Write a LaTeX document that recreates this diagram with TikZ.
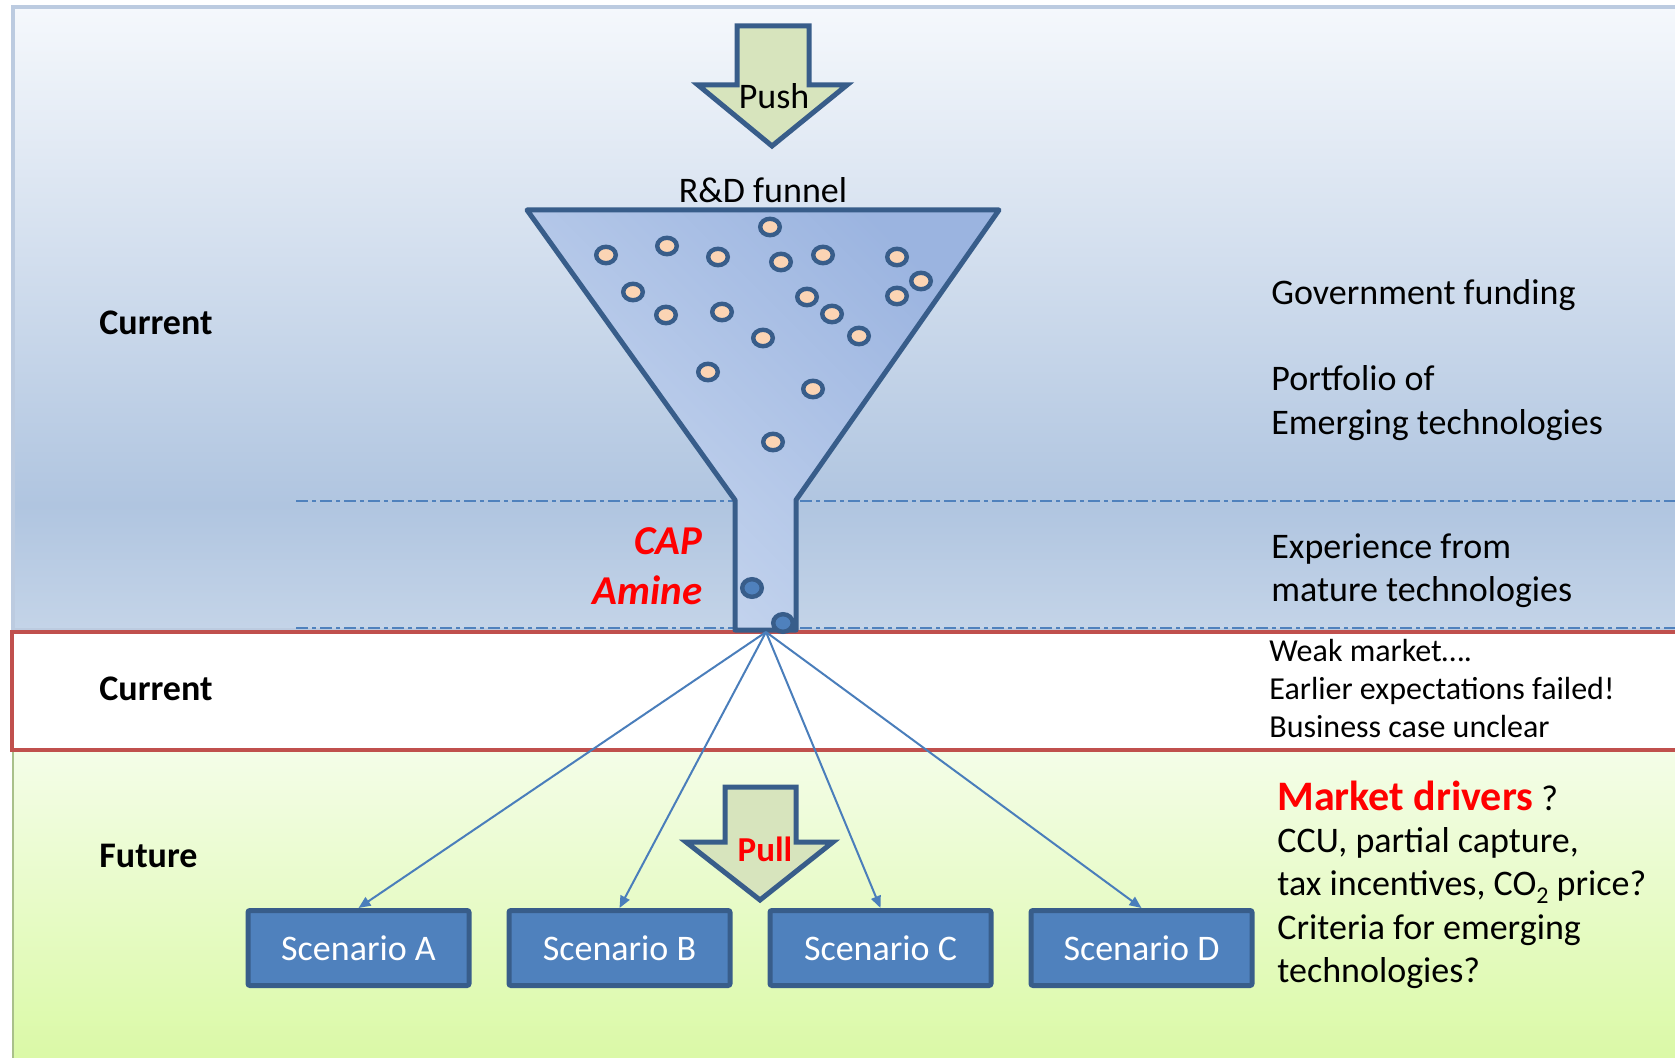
\documentclass[tikz,border=0pt]{standalone}
\usepackage{fontspec}
\setmainfont{Carlito}
\usepackage{tikz}
\usetikzlibrary{positioning, arrows.meta}

\definecolor{panelTop}{HTML}{F5F8FC}
\definecolor{panelDark}{HTML}{B0C5E0}
\definecolor{panelLow}{HTML}{C4D4E8}
\definecolor{panelEdge}{HTML}{BCCBE0}
\definecolor{funnelLight}{HTML}{C8D7EF}
\definecolor{funnelDark}{HTML}{9BB4E0}
\definecolor{lineBlue}{HTML}{385D8A}
\definecolor{boxBlue}{HTML}{4F81BD}
\definecolor{linkBlue}{HTML}{4A7EBB}
\definecolor{beadFill}{HTML}{FBD4B4}
\definecolor{arrowFill}{HTML}{D7E4BD}
\definecolor{bandRed}{HTML}{C0504D}
\definecolor{greenTop}{HTML}{F4FDE8}
\definecolor{greenLow}{HTML}{DAF9A5}
\definecolor{greenEdge}{HTML}{A9C08A}

\pgfdeclareverticalshading{topband}{100bp}{color(0bp)=(panelLow); color(25bp)=(panelLow);
    color(35bp)=(panelDark); color(75bp)=(panelTop); color(100bp)=(panelTop)}

\begin{document}
\begin{tikzpicture}[
    x=0.5pt, y=-0.5pt,
    every node/.style={inner sep=0pt, font=\fontsize{18}{21.6}\selectfont},
    side/.style={anchor=west, align=left},
    era/.style={anchor=west, font=\fontsize{18}{21.6}\selectfont\bfseries},
    scenario/.style={draw=lineBlue, line width=2.5pt, fill=boxBlue, rounded corners=1pt,
        minimum width=110.5pt, minimum height=37.5pt, text=white},
    blockarrow/.style={draw=lineBlue, line width=2.5pt, fill=arrowFill},
    bead/.style={draw=lineBlue, line width=2.2pt, fill=beadFill},
    feed/.style={draw=linkBlue, line width=1pt, -{Triangle[length=6pt,width=5pt]}},
    stageline/.style={draw=boxBlue, line width=1pt, dash pattern=on 6pt off 2pt on 2pt off 2pt}
]
\useasboundingbox (0,0) rectangle (1675,1058);

% Bands
\shade[shading=topband, draw=panelEdge, line width=2pt] (13,7) rectangle (1685,630);
\shade[top color=greenTop, bottom color=greenLow, draw=greenEdge, line width=1pt] (13,750) rectangle (1685,1065);
\draw[stageline] (296,501) -- (1680,501);
\draw[stageline] (296,628) -- (1680,628);
\draw[draw=bandRed, fill=white, line width=2pt] (12,632) rectangle (1685,750);

% Funnel
\shadedraw[draw=lineBlue, line width=2.5pt, line join=round,
    top color=funnelDark, bottom color=funnelLight, shading angle=-45]
    (527,210) -- (999,210) -- (796,500) -- (796,630) -- (735,630) -- (735,500) -- cycle;
\foreach \x/\y in {770/227, 606/255, 667/246, 718/257, 781/262, 823/255, 897/257,
    921/281, 897/296, 633/292, 666/315, 722/312, 807/297, 832/314, 859/336,
    763/338, 708/372, 813/389, 773/442}
    \draw[bead] (\x,\y) ellipse [x radius=4.9pt, y radius=4.1pt];
\foreach \x/\y in {752/588, 783/623}
    \draw[bead, fill=boxBlue] (\x,\y) ellipse [x radius=4.9pt, y radius=4.4pt];
\coordinate (neck) at (766,632);

\node (rd) at (763,190) {R\&D funnel};
\node[anchor=east, align=right, text=red, font=\fontsize{20.5}{25}\selectfont\bfseries\itshape]
    (cap) at (703,566) {CAP\\Amine};

% Push / Pull
\draw[blockarrow] (737,26) -- (809,26) -- (809,85) -- (847,85) -- (772,146) -- (698,85) -- (737,85) -- cycle;
\node (push) at (774,96) {Push};
\draw[blockarrow] (725,787) -- (796,787) -- (796,842) -- (833,842) -- (760,900) -- (686,842) -- (725,842) -- cycle;
\node[text=red, font=\fontsize{17.5}{20}\selectfont\bfseries] (pull) at (765,849) {Pull};

% Scenarios
\node[scenario] (scA) at (358.5,948) {Scenario A};
\node[scenario, right=17.5pt of scA] (scB) {Scenario B};
\node[scenario, right=17.5pt of scB] (scC) {Scenario C};
\node[scenario, right=17.5pt of scC] (scD) {Scenario D};
\foreach \s in {scA, scB, scC, scD}
    \draw[feed] (neck) -- (\s.north);

% Left labels
\node[era] (now1) at (99,323) {Current};
\node[era] (now2) at (99,689) {Current};
\node[era] (later) at (99,856) {Future};

% Right notes
\node[side] (gov) at (1271,295) {Government funding};
\node[side] (port) at (1271,403) {Portfolio of\\Emerging technologies};
\node[side] (exper) at (1271,571) {Experience from\\mature technologies};
\node[side, font=\fontsize{16}{19}\selectfont] (weak) at (1269,689)
    {Weak market….\\Earlier expectations failed!\\Business case unclear};
\node[side] (drivers) at (1277,796)
    {\textcolor{red}{\fontsize{21}{25}\selectfont\bfseries Market drivers} ?};
\node[side] (questions) at (1277,908)
    {CCU, partial capture,\\tax incentives, CO\raisebox{-0.45ex}{\fontsize{12}{12}\selectfont 2} price?\\Criteria for emerging\\technologies?};

\end{tikzpicture}
\end{document}
